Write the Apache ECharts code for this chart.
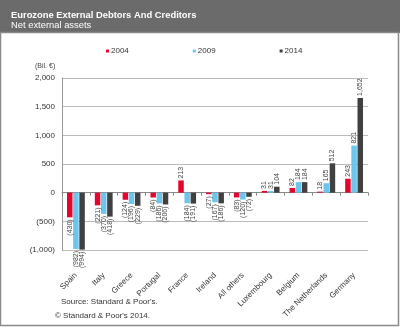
<!DOCTYPE html>
<html><head><meta charset="utf-8">
<script src="https://cdn.jsdelivr.net/npm/echarts@6/dist/echarts.min.js"></script>
<style>html,body{margin:0;padding:0;background:#fff}#c{width:400px;height:327px}</style>
</head><body><div id="c"></div>
<script>
var categories = ['Spain','Italy','Greece','Portugal','France','Ireland','All others','Luxembourg','Belgium','The Netherlands','Germany'];
var v2004 = [-430,-221,-124,-84,213,-27,-83,31,82,18,243];
var v2009 = [-982,-370,-196,-186,-184,-167,-120,31,184,165,821];
var v2014 = [-994,-418,-229,-206,-191,-186,-72,104,184,512,1652];
var yTicks = {min:-1000,max:2000,interval:500};

function fmt(v){
  var s = Math.abs(v).toString().replace(/\B(?=(\d{3})+(?!\d))/g, ',');
  return v < 0 ? '(' + s + ')' : s;
}
function mk(arr){
  return arr.map(function(v){
    return {value:v,label:{position: v<0?'bottom':'top', align: v<0?'right':'left'}};
  });
}
var lblBase = {show:true,rotate:90,verticalAlign:'middle',distance:2,fontSize:7,color:'#444',fontFamily:'Liberation Sans',
  formatter:function(p){return fmt(p.value);}};
function ser(name,arr,color){
  return {name:name,type:'bar',data:mk(arr),barWidth:5.5,barGap:'12%',itemStyle:{color:color},label:lblBase};
}
var chart = echarts.init(document.getElementById('c'));
chart.setOption({
  animation:false,
  textStyle:{fontFamily:'Liberation Sans'},
  graphic:[
    {type:'rect',shape:{x:0,y:0,width:400,height:33},style:{fill:'#6b6b6b'},z:-1},
    {type:'rect',shape:{x:0.5,y:32.5,width:398,height:293},style:{fill:'none',stroke:'#8a8a8a',lineWidth:1.5},z:-1},
    {type:'text',left:35,top:63,style:{text:'(Bil. €)',fontSize:7,fill:'#444',fontFamily:'Liberation Sans'}},
    {type:'text',left:61,top:298,style:{text:"Source: Standard & Poor's.",fontSize:8,fill:'#333',fontFamily:'Liberation Sans'}},
    {type:'text',left:55,top:312,style:{text:"© Standard & Poor's 2014.",fontSize:8,fill:'#333',fontFamily:'Liberation Sans'}}
  ],
  title:{text:'Eurozone External Debtors And Creditors',subtext:'Net external assets',left:6,top:6,itemGap:1,
    textStyle:{color:'#fff',fontSize:9.4,fontWeight:'bold',fontFamily:'Liberation Sans'},
    subtextStyle:{color:'#fff',fontSize:9.4,fontFamily:'Liberation Sans'}},
  legend:{left:101,top:42,itemWidth:3,itemHeight:3,itemGap:64,icon:'rect',
    textStyle:{fontSize:8,color:'#333',padding:[0,0,0,-3]},
    data:['2004','2009','2014']},
  grid:{left:62,right:32,top:78,bottom:77,containLabel:false,outerBoundsMode:'none'},
  xAxis:{type:'category',data:categories,
    axisLine:{onZero:true,lineStyle:{color:'#888'}},
    axisTick:{show:true,length:3,lineStyle:{color:'#888'}},
    axisLabel:{rotate:45,fontSize:8,color:'#333',margin:24,interval:0}},
  yAxis:{type:'value',min:yTicks.min,max:yTicks.max,interval:yTicks.interval,
    axisLine:{show:true,lineStyle:{color:'#999'}},
    axisTick:{show:false},
    splitLine:{lineStyle:{color:'#bbb'}},
    axisLabel:{fontSize:8,color:'#333',margin:7,formatter:fmt}},
  series:[ser('2004',v2004,'#e2062f'),ser('2009',v2009,'#6cc5ec'),ser('2014',v2014,'#404040')]
});
</script></body></html>
